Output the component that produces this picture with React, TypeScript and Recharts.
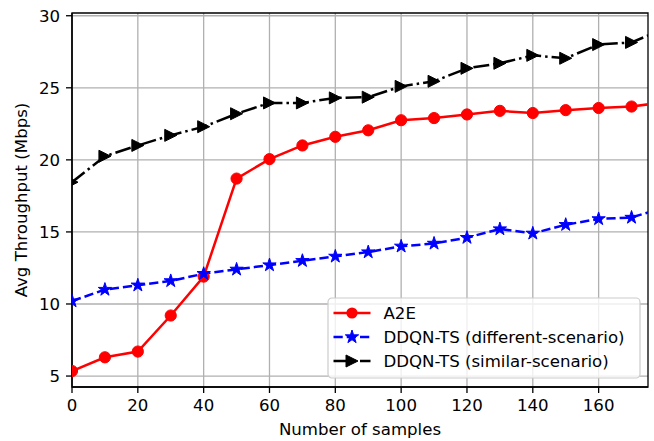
import { LineChart, Line, XAxis, YAxis, CartesianGrid, ReferenceArea } from 'recharts';

const samples = [0, 10, 20, 30, 40, 50, 60, 70, 80, 90, 100, 110, 120, 130, 140, 150, 160, 170, 180];
const a2e = [5.35, 6.3, 6.7, 9.2, 11.9, 18.7, 20.05, 21.0, 21.6, 22.05, 22.75, 22.9, 23.15, 23.4, 23.25, 23.45, 23.6, 23.7, 24.0];
const ddqnDifferent = [10.2, 11.0, 11.3, 11.6, 12.1, 12.4, 12.7, 13.0, 13.3, 13.6, 14.0, 14.2, 14.6, 15.2, 14.9, 15.5, 15.9, 16.0, 16.7];
const ddqnSimilar = [18.45, 20.25, 21.0, 21.7, 22.3, 23.2, 23.95, 23.95, 24.3, 24.35, 25.1, 25.45, 26.35, 26.7, 27.25, 27.05, 28.0, 28.15, 29.1];

const xTicks = [0, 20, 40, 60, 80, 100, 120, 140, 160];
const yTicks = [5, 10, 15, 20, 25, 30];
const legendLabels = ['A2E', 'DDQN-TS (different-scenario)', 'DDQN-TS (similar-scenario)'];

const data = samples.map((s, i) => ({
    samples: s,
    a2e: a2e[i],
    different: ddqnDifferent[i],
    similar: ddqnSimilar[i],
}));

const FONT = '"DejaVu Sans", sans-serif';
const FS = 16.6;
const X_MAX = 175;
const Y_MIN = 4.24;
const Y_MAX = 30.19;

const starPoints = (cx: number, cy: number, r: number) => {
    const pts: string[] = [];
    for (let i = 0; i < 10; i++) {
        const a = (-90 + i * 36) * Math.PI / 180;
        const rr = i % 2 === 0 ? r : r * 0.382;
        pts.push(`${cx + rr * Math.cos(a)},${cy + rr * Math.sin(a)}`);
    }
    return pts.join(' ');
};

const triPoints = (cx: number, cy: number, h: number) =>
    `${cx + h},${cy} ${cx - h},${cy - h} ${cx - h},${cy + h}`;

const CircleDot = (props: any) => {
    const { cx, cy, index } = props;
    if (cx == null || cy == null) return <g key={`c${index}`} />;
    return <circle key={`c${index}`} cx={cx} cy={cy} r={5.6} fill="#ff0000" stroke="#ff0000" />;
};

const StarDot = (props: any) => {
    const { cx, cy, index } = props;
    if (cx == null || cy == null) return <g key={`s${index}`} />;
    return <polygon key={`s${index}`} points={starPoints(cx, cy, 7)} fill="#0000ff" stroke="#0000ff" strokeWidth={1} />;
};

const TriDot = (props: any) => {
    const { cx, cy, index } = props;
    if (cx == null || cy == null) return <g key={`t${index}`} />;
    return <polygon key={`t${index}`} points={triPoints(cx, cy, 6)} fill="#000000" stroke="#000000" strokeWidth={1} />;
};

// legend drawn as an overlay so it doesn't eat into the plot area
function ChartLegend() {
    const rows = [
        { color: '#ff0000', dash: undefined, marker: 'circle' },
        { color: '#0000ff', dash: '9.25,4', marker: 'star' },
        { color: '#000000', dash: '16,4,2.5,4', marker: 'tri' },
    ];
    return (
        <svg width={314} height={82} style={{ position: 'absolute', left: 326.5, top: 296.5 }}>
            <rect x={1} y={1} width={312} height={80} rx={4} fill="#ffffff" fillOpacity={0.8} stroke="#cccccc" strokeWidth={1.2} />
            {rows.map((r, i) => {
                const y = 16 + i * 24;
                return (
                    <g key={i}>
                        <line x1={6.5} x2={43.5} y1={y} y2={y} stroke={r.color} strokeWidth={2.5} strokeDasharray={r.dash} />
                        {r.marker === 'circle' && <circle cx={25} cy={y} r={5.6} fill={r.color} />}
                        {r.marker === 'star' && <polygon points={starPoints(25, y, 7)} fill={r.color} stroke={r.color} />}
                        {r.marker === 'tri' && <polygon points={triPoints(25, y, 6)} fill={r.color} stroke={r.color} />}
                        <text x={56.5} y={y} dy="0.36em" fontFamily={FONT} fontSize={FS} fill="#000">
                            {legendLabels[i]}
                        </text>
                    </g>
                );
            })}
        </svg>
    );
}

export default function App() {
    return (
        <div style={{ position: 'absolute', left: 0, top: 0, width: 654, height: 441, background: '#fff' }}>
            <LineChart
                width={654}
                height={441}
                data={data}
                margin={{ top: 13, right: 6, left: 0, bottom: 0 }}
            >
                <CartesianGrid stroke="#b0b0b0" strokeWidth={1.3} horizontalValues={yTicks} verticalValues={xTicks} />
                <XAxis
                    dataKey="samples"
                    type="number"
                    domain={[0, X_MAX]}
                    allowDataOverflow
                    ticks={xTicks}
                    interval={0}
                    height={54}
                    tickSize={6}
                    tickMargin={6}
                    stroke="#000"
                    strokeWidth={1.3}
                    tick={{ fill: '#000', fontFamily: FONT, fontSize: FS }}
                    label={{ value: 'Number of samples', position: 'insideBottom', offset: 6, fill: '#000', fontFamily: FONT, fontSize: FS }}
                />
                <YAxis
                    type="number"
                    domain={[Y_MIN, Y_MAX]}
                    allowDataOverflow
                    ticks={yTicks}
                    interval={0}
                    width={72}
                    tickSize={6}
                    tickMargin={6}
                    stroke="#000"
                    strokeWidth={1.3}
                    tick={{ fill: '#000', fontFamily: FONT, fontSize: FS }}
                    label={{ value: 'Avg Throughput (Mbps)', angle: -90, position: 'insideLeft', offset: 21, style: { textAnchor: 'middle' }, fill: '#000', fontFamily: FONT, fontSize: FS }}
                />
                <ReferenceArea x1={0} x2={X_MAX} y1={Y_MIN} y2={Y_MAX} fill="none" stroke="#000" strokeWidth={1.3} ifOverflow="visible" />
                <Line dataKey="a2e" stroke="#ff0000" strokeWidth={2.5} dot={CircleDot} activeDot={false} isAnimationActive={false} />
                <Line dataKey="different" stroke="#0000ff" strokeWidth={2.5} strokeDasharray="9.25 4" dot={StarDot} activeDot={false} isAnimationActive={false} />
                <Line dataKey="similar" stroke="#000000" strokeWidth={2.5} strokeDasharray="16 4 2.5 4" dot={TriDot} activeDot={false} isAnimationActive={false} />
            </LineChart>
            <ChartLegend />
        </div>
    );
}
